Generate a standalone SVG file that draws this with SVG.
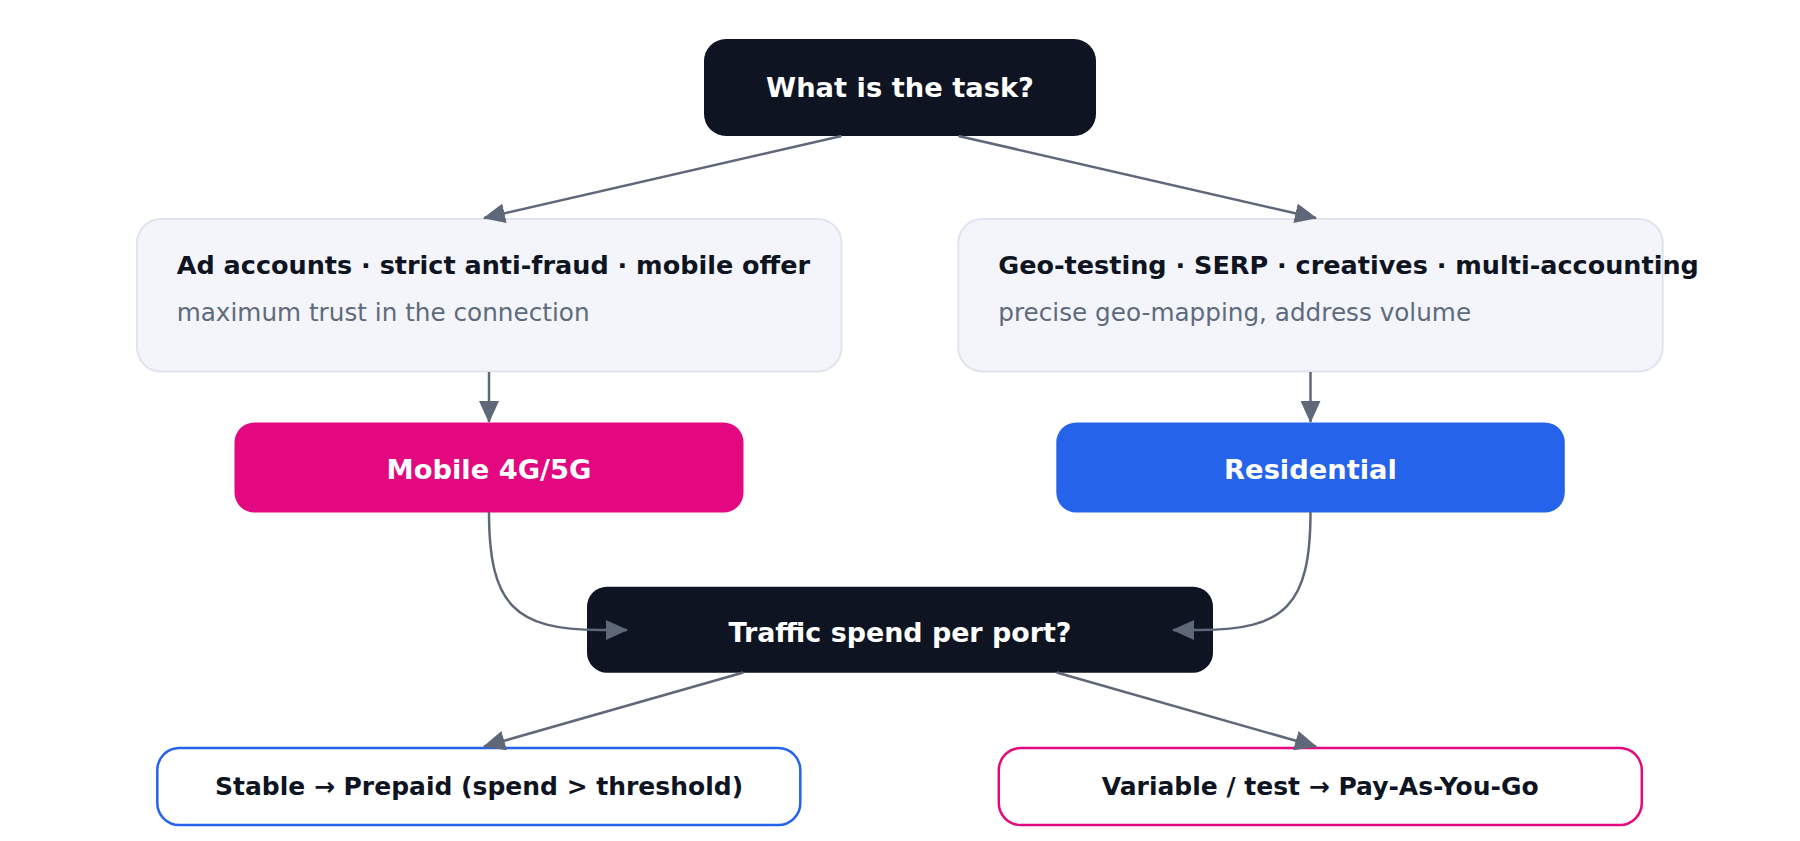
<svg xmlns="http://www.w3.org/2000/svg" width="1800" height="841" viewBox="0 0 1800 841">
<style>
text{font-family:"DejaVu Sans","Verdana",sans-serif}
.dark{fill:#0e1421}
.card{fill:#f3f5fa;stroke:#dfe4ee;stroke-width:2}
.ttl{font-weight:bold;font-size:27.3px;fill:#ffffff;text-anchor:middle}
.ct{font-weight:bold;font-size:25.5px;fill:#0e1421}
.cs{font-size:24.7px;fill:#5f6b7d}
.bt{font-weight:bold;font-size:25px;fill:#0e1421;text-anchor:middle}
.out{fill:#ffffff;stroke-width:2.5}
.edge{fill:none;stroke:#5f6879;stroke-width:2.5}
</style>
<defs>
<marker id="ah" markerUnits="userSpaceOnUse" markerWidth="22" markerHeight="20" refX="21" refY="10" orient="auto">
<path d="M0,0 L22,10 L0,20 z" fill="#5f6879"/>
</marker>
</defs>
<rect width="1800" height="841" fill="#ffffff"/>
<g id="n-task">
<rect class="dark" x="704" y="39" width="392" height="97" rx="22"/>
<text class="ttl" x="900" y="97">What is the task?</text>
</g>
<g id="n-ads">
<rect class="card" x="137" y="219" width="704.5" height="152.5" rx="24"/>
<text class="ct" x="176.7" y="274.3">Ad accounts · strict anti-fraud · mobile offer</text>
<text class="cs" x="176.7" y="320.7">maximum trust in the connection</text>
</g>
<g id="n-geo">
<rect class="card" x="958.3" y="219" width="704.4" height="152.5" rx="24"/>
<text class="ct" x="998.3" y="274.3">Geo-testing · SERP · creatives · multi-accounting</text>
<text class="cs" x="998.3" y="320.7">precise geo-mapping, address volume</text>
</g>
<g id="n-mobile">
<rect x="234.5" y="422.5" width="509" height="90" rx="20" fill="#e3087f"/>
<text class="ttl" x="489" y="479">Mobile 4G/5G</text>
</g>
<g id="n-res">
<rect x="1056.3" y="422.5" width="508.5" height="90" rx="20" fill="#2563eb"/>
<text class="ttl" x="1310.5" y="479">Residential</text>
</g>
<g id="n-traffic">
<rect class="dark" x="587" y="586.7" width="626" height="86" rx="20"/>
<text class="ttl" x="900" y="641.7" style="font-size:26.9px">Traffic spend per port?</text>
</g>
<g id="n-prepaid">
<rect class="out" x="157.3" y="748" width="643" height="77" rx="22" stroke="#2563eb"/>
<text class="bt" x="479" y="795">Stable → Prepaid (spend &gt; threshold)</text>
</g>
<g id="n-payg">
<rect class="out" x="998.8" y="748" width="643" height="77" rx="22" stroke="#e3087f"/>
<text class="bt" x="1320.2" y="795">Variable / test → Pay-As-You-Go</text>
</g>
<g id="connectors">
<path class="edge" d="M841.5,136 L484,218" marker-end="url(#ah)"/>
<path class="edge" d="M958.5,136 L1316,218" marker-end="url(#ah)"/>
<path class="edge" d="M489,372 L489,422" marker-end="url(#ah)"/>
<path class="edge" d="M1310.5,372 L1310.5,422" marker-end="url(#ah)"/>
<path class="edge" d="M489,512 C489,605 515,630 600,630 L627,630" marker-end="url(#ah)"/>
<path class="edge" d="M1310.5,512 C1310.5,605 1285,630 1200,630 L1173,630" marker-end="url(#ah)"/>
<path class="edge" d="M743.3,672.5 L484,746.5" marker-end="url(#ah)"/>
<path class="edge" d="M1056.7,672.5 L1316,746.5" marker-end="url(#ah)"/>
</g>
</svg>
